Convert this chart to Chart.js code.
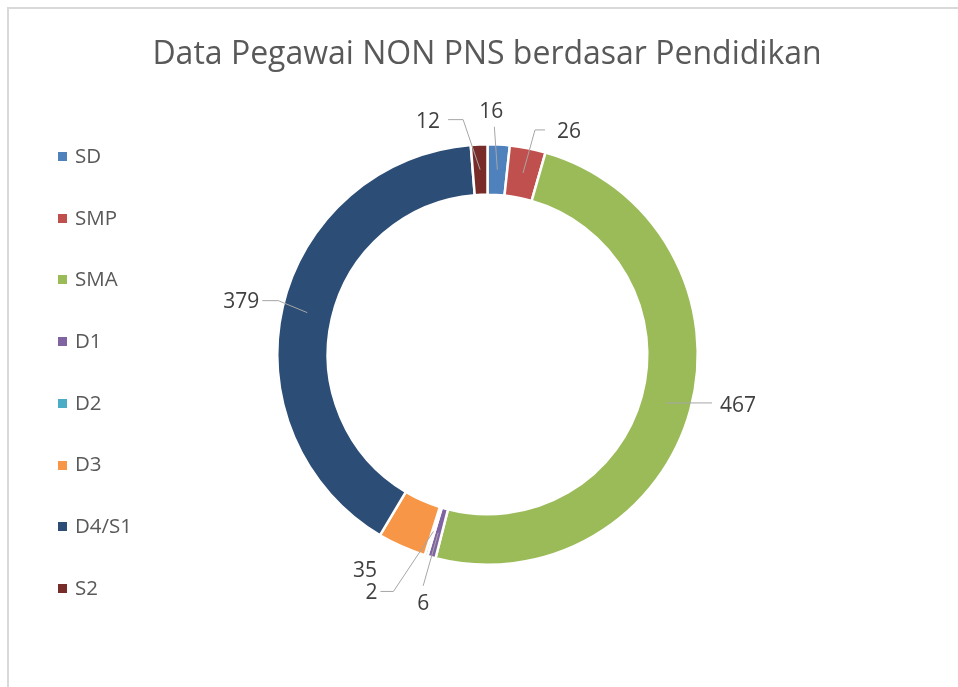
<!DOCTYPE html>
<html>
<head>
<meta charset="utf-8">
<title>Data Pegawai NON PNS berdasar Pendidikan</title>
<script src="https://cdn.jsdelivr.net/npm/chart.js@4.4.1/dist/chart.umd.min.js"></script>
<style>
  html, body { margin: 0; padding: 0; background: #fff; overflow: hidden; }
  #frame {
    position: absolute; left: 7px; top: 7px; width: 1000px; height: 800px;
    border-left: 2px solid #d9d9d9; border-top: 2px solid #d9d9d9;
  }
  #wrap { position: absolute; left: 0; top: 0; width: 958px; height: 687px; }
</style>
</head>
<body>
<div id="frame"></div>
<div id="wrap"><canvas id="chart" width="958" height="687"></canvas></div>
<script>
// data
const title = 'Data Pegawai NON PNS berdasar Pendidikan';
const categories = ['SD', 'SMP', 'SMA', 'D1', 'D2', 'D3', 'D4/S1', 'S2'];
const values = [16, 26, 467, 6, 2, 35, 379, 12];
const colors = ['#4F81BD', '#C0504D', '#9BBB59', '#8064A2', '#4BACC6', '#F79646', '#2C4D75', '#772C2A'];

// label placement, relative to the middle of each slice
// text: [dx, dy], align, leader: points the line goes through after leaving the slice
const labelLayout = [
  { text: [-6, -59], align: 'center', leader: [[-3, -43]] },
  { text: [34, -42], align: 'left', leader: [[12, -43], [22, -43]] },
  { text: [54, 2], align: 'left', leader: [[46, 0]] },
  { text: [-15, 70], align: 'center', leader: [[-15, 53]] },
  { text: [-56, 61], align: 'right', leader: [[-40, 60], [-53, 60]] },
  { text: [-47, 47], align: 'center', leader: null },
  { text: [-48, -12], align: 'right', leader: [[-29, -12], [-45, -12]] },
  { text: [-40, -49], align: 'right', leader: [[-17, -50], [-32, -50]] }
];

const FONT = '"Open Sans", "Noto Sans", sans-serif';

// title + legend drawn on the canvas
const decorPlugin = {
  id: 'decor',
  afterDraw(chart) {
    const ctx = chart.ctx;
    ctx.save();
    ctx.fillStyle = '#595959';
    ctx.font = '32px ' + FONT;
    ctx.textAlign = 'center';
    ctx.textBaseline = 'alphabetic';
    ctx.fillText(title, 487, 64);

    // legend
    ctx.font = '20.5px ' + FONT;
    ctx.textAlign = 'left';
    ctx.textBaseline = 'middle';
    const labels = chart.data.labels;
    const bg = chart.data.datasets[0].backgroundColor;
    for (let i = 0; i < labels.length; i++) {
      const y = 156 + i * 61.7;
      ctx.fillStyle = bg[i];
      ctx.fillRect(58, Math.round(y - 4), 9, 9);
      ctx.fillStyle = '#595959';
      ctx.fillText(labels[i], 75, y + 1);
    }
    ctx.restore();
  }
};

// value labels with leader lines
const valueLabelPlugin = {
  id: 'valueLabels',
  afterDatasetsDraw(chart) {
    const ctx = chart.ctx;
    const meta = chart.getDatasetMeta(0);
    const data = chart.data.datasets[0].data;
    ctx.save();
    meta.data.forEach((arc, i) => {
      const lay = labelLayout[i];
      if (!lay) return;
      const p = arc.getCenterPoint();
      if (lay.leader) {
        ctx.beginPath();
        ctx.strokeStyle = '#a6a6a6';
        ctx.lineWidth = 1;
        ctx.moveTo(p.x, p.y);
        lay.leader.forEach(pt => ctx.lineTo(p.x + pt[0], p.y + pt[1]));
        ctx.stroke();
      }
      ctx.fillStyle = '#404040';
      ctx.font = '21px ' + FONT;
      ctx.textAlign = lay.align;
      ctx.textBaseline = 'middle';
      ctx.fillText(String(data[i]), p.x + lay.text[0], p.y + lay.text[1] + 1);
    });
    ctx.restore();
  }
};

new Chart(document.getElementById('chart'), {
  type: 'doughnut',
  data: {
    labels: categories,
    datasets: [{
      data: values,
      backgroundColor: colors,
      borderColor: '#ffffff',
      borderWidth: 2.5,
      hoverOffset: 0
    }]
  },
  options: {
    responsive: false,
    animation: false,
    cutout: '76%',
    layout: {
      padding: { left: 276, right: 259, top: 143, bottom: 121 }
    },
    plugins: {
      legend: { display: false },
      title: { display: false },
      tooltip: { enabled: false }
    }
  },
  plugins: [decorPlugin, valueLabelPlugin]
});
</script>
</body>
</html>
